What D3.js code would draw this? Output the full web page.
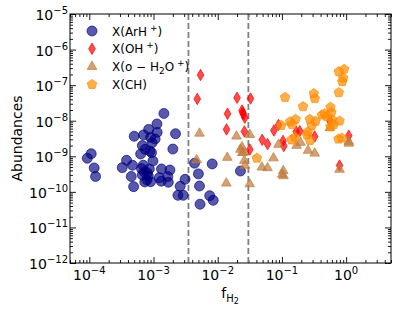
<!DOCTYPE html>
<html>
<head>
<meta charset="utf-8">
<script src="https://cdnjs.cloudflare.com/ajax/libs/d3/7.8.5/d3.min.js"></script>
<style>
body { margin: 0; background: #fff; }
text { font-family: "DejaVu Sans", sans-serif; fill: #000; }
</style>
</head>
<body>
<svg id="chart" width="399" height="312"></svg>
<script>
// [fH2, abundance] pairs
const arhPlus = [[1.45e-3,1.6e-8],[1.13e-3,8.1e-9],[8.4e-4,5.7e-9],[1.14e-3,4.7e-9],[7.0e-4,4.0e-9],[5.0e-4,3.65e-9],
  [2.2e-3,4.3e-9],[9.0e-4,3.4e-9],[1.06e-3,3.06e-9],[9.5e-4,2.4e-9],[6.7e-4,2.0e-9],[2.0e-3,1.6e-9],[7.4e-4,1.57e-9],
  [8.8e-4,1.4e-9],[6.3e-4,1.16e-9],[9.3e-4,1.26e-9],[1.07e-4,1.18e-9],[9.3e-5,8.8e-10],[9.8e-4,7.4e-10],[3.8e-4,7.7e-10],
  [6.9e-4,5.6e-10],[4.7e-4,5.6e-10],[3.25e-4,4.8e-10],[1.19e-4,4.7e-10],[6.5e-4,4.5e-10],[8.6e-4,4.4e-10],[1.33e-3,4.4e-10],
  [1.8e-3,4.1e-10],[7.2e-4,3.6e-10],[1.25e-4,2.7e-10],[4.5e-4,2.7e-10],[8.3e-4,2.8e-10],[1.23e-3,2.5e-10],[1.67e-3,2.7e-10],
  [7.9e-4,2.15e-10],[3.1e-3,2.25e-10],[1.32e-3,2.0e-10],[7.3e-4,1.9e-10],[9.0e-4,1.93e-10],[1.7e-3,1.86e-10],[4.9e-4,1.4e-10],
  [2.6e-3,1.43e-10],[2.4e-3,8.0e-11],[2.9e-3,8.0e-11],[6.7e-4,3.0e-10],[8.0e-4,3.45e-10],[4.35e-3,6.4e-10],[8.2e-3,6.1e-10],
  [5.0e-3,3.2e-10],[5.2e-3,1.46e-10],[7.5e-3,7.8e-11],[8.5e-3,5.8e-11],[5.3e-3,4.5e-11],[2.26e-2,3.85e-10]];

const ohPlus = [[5.4e-3,1.93e-7],[4.8e-3,4.1e-8],[2.0e-2,4.4e-8],[3.24e-2,4.2e-8],[1.42e-2,1.57e-8],[2.39e-2,1.94e-8],
  [2.45e-2,1.7e-8],[2.52e-2,1.5e-8],[2.64e-2,1.22e-8],[1.37e-2,5.7e-9],[2.6e-2,5.0e-9],[3.16e-2,1.55e-9],[4.93e-2,2.9e-9],
  [5.97e-2,2.2e-9],[7.5e-2,5.3e-9],[8.85e-2,7.6e-9],[0.107,1.95e-9],[0.104,2.7e-9],[0.167,4.9e-9],[0.19,5.1e-9],
  [0.324,3.6e-9],[0.561,9.8e-9],[1.10,3.8e-9],[0.79,5.5e-10]];

const oH2OPlus = [[5.2e-3,4.4e-9],[1.96e-2,3.65e-9],[3.16e-2,4.05e-9],[2.39e-2,1.82e-9],[2.55e-2,1.29e-9],[2.41e-2,1.26e-9],
  [2.6e-2,7.6e-10],[2.66e-2,5.5e-10],[1.41e-2,9.2e-10],[4.7e-3,7.9e-10],[1.36e-2,1.74e-10],[3.15e-2,1.66e-10],[7.4e-2,8.9e-10],
  [4.86e-2,4.9e-10],[5.97e-2,4.7e-10],[0.105,3.9e-10],[0.106,2.8e-10],[0.101,3.1e-10],[8.85e-2,2.14e-9],[0.169,2.0e-9],
  [0.195,2.44e-9],[0.255,1.45e-9],[0.324,1.21e-9],[0.557,6.3e-9],[0.79,4.25e-10],[1.10,2.6e-9],[2.26e-2,1.55e-9],[1.10,2.3e-9]];

const chData = [[0.112,4.55e-8],[0.213,2.5e-8],[0.314,5.8e-8],[0.325,4.2e-8],[0.77,6.2e-8],[0.77,2.4e-7],[0.93,2.8e-7],
  [0.90,1.59e-7],[0.87,1.26e-7],[0.57,2.4e-8],[0.46,1.57e-8],[0.50,1.31e-8],[0.59,1.72e-8],[0.61,1.05e-8],[0.79,9.8e-9],
  [0.64,7.8e-9],[0.57,6.8e-9],[0.334,9.7e-9],[0.292,7.3e-9],[0.42,1.45e-8],[0.163,1.1e-8],[0.134,9.4e-9],[0.144,7.8e-9],
  [9.75e-2,7.4e-9],[0.246,4.05e-9],[0.274,2.8e-9],[0.141,2.9e-9],[0.159,3.4e-9],[0.76,3.06e-9],[0.86,3.27e-9],
  [4.07e-2,8.9e-10],[0.253,4.9e-9],[0.272,1.1e-8]];

const dashedAt = [3.5e-3, 3.0e-2];
const xTickExps = [-4, -3, -2, -1, 0];
const yTickExps = [-12, -11, -10, -9, -8, -7, -6, -5];

const pLeft = 70, pRight = 391, pTop = 14, pBottom = 263;
const svg = d3.select('#chart');

const x = d3.scaleLog().domain([5e-5, 5]).range([pLeft, pRight]);
const y = d3.scaleLog().domain([1e-12, 1e-5]).range([pBottom, pTop]);

// minor ticks 2..9 per decade
function minors(scale) {
  const [a, b] = scale.domain();
  const out = [];
  for (let e = Math.floor(Math.log10(a)); e <= Math.ceil(Math.log10(b)); e++)
    for (let k = 2; k <= 9; k++) {
      const v = k * Math.pow(10, e);
      if (v >= a * 0.999 && v <= b * 1.001) out.push(v);
    }
  return out;
}
const xMaj = xTickExps.map(e => Math.pow(10, e));
const yMaj = yTickExps.map(e => Math.pow(10, e));

function tickAxis(axisFn, scale, vals, len, tr) {
  const g = svg.append('g').attr('transform', tr)
    .call(axisFn(scale).tickValues(vals).tickSize(-len).tickFormat(''));
  g.select('.domain').remove();
  g.selectAll('line').attr('stroke', '#000').attr('stroke-width', 0.9);
}
[[xMaj, 6], [minors(x), 3]].forEach(([v, l]) => {
  tickAxis(d3.axisBottom, x, v, l, `translate(0,${pBottom})`);
  tickAxis(d3.axisTop, x, v, l, `translate(0,${pTop})`);
});
[[yMaj, 6], [minors(y), 3]].forEach(([v, l]) => {
  tickAxis(d3.axisLeft, y, v, l, `translate(${pLeft},0)`);
  tickAxis(d3.axisRight, y, v, l, `translate(${pRight},0)`);
});

// tick labels 10^n
function powLabel(sel, e) {
  sel.append('tspan').text('10');
  sel.append('tspan').attr('dy', -6).attr('font-size', 10).text(e < 0 ? '\u2212' + (-e) : e);
}
xTickExps.forEach(e => {
  svg.append('text').attr('x', x(Math.pow(10, e))).attr('y', 280)
    .attr('text-anchor', 'middle').attr('font-size', 14).call(powLabel, e);
});
yTickExps.forEach(e => {
  svg.append('text').attr('x', 68).attr('y', y(Math.pow(10, e)) + 6)
    .attr('text-anchor', 'end').attr('font-size', 14).call(powLabel, e);
});

// dashed lines
svg.selectAll('.vline').data(dashedAt).enter().append('line')
  .attr('x1', d => x(d)).attr('x2', d => x(d)).attr('y1', pTop).attr('y2', pBottom)
  .attr('stroke', '#808080').attr('stroke-width', 1.8).attr('stroke-dasharray', '6,3');

// marker shapes
const pentagon = {
  draw(ctx, size) {
    const r = Math.sqrt(size / 2.378);
    for (let i = 0; i < 5; i++) {
      const a = -Math.PI / 2 + i * 2 * Math.PI / 5;
      i ? ctx.lineTo(r * Math.cos(a), r * Math.sin(a)) : ctx.moveTo(r * Math.cos(a), r * Math.sin(a));
    }
    ctx.closePath();
  }
};
const series = [
  {data: arhPlus, type: d3.symbolCircle, size: 78, color: '#000080', op: 0.65},
  {data: ohPlus, type: d3.symbolDiamond, size: 38, color: '#ff0000', op: 0.7},
  {data: oH2OPlus, type: d3.symbolTriangle, size: 40, color: '#c07a3a', op: 0.7},
  {data: chData, type: pentagon, size: 60, color: '#ff8c00', op: 0.7}
];
series.forEach(s => {
  svg.append('g').selectAll('path').data(s.data).enter().append('path')
    .attr('transform', d => `translate(${x(d[0])},${y(d[1])})`)
    .attr('d', d3.symbol().type(s.type).size(s.size))
    .attr('fill', s.color).attr('fill-opacity', s.op)
    .attr('stroke', s.color).attr('stroke-opacity', s.op).attr('stroke-width', 1);
});

// frame
svg.append('rect').attr('x', pLeft).attr('y', pTop).attr('width', pRight - pLeft).attr('height', pBottom - pTop)
  .attr('fill', 'none').attr('stroke', '#000').attr('stroke-width', 1);

// legend
const legendRows = [
  {parts: [['X(ArH', 0], [' +', -5], [')', 5]]},
  {parts: [['X(OH', 0], [' +', -5], [')', 5]]},
  {parts: [['X(o \u2212 H', 0], ['2', 3, true], ['O', -3], [' +', -5], [')', 5]]},
  {parts: [['X(CH)', 0]]}
];
legendRows.forEach((row, i) => {
  const s = series[i], cy = 31 + i * 17.8;
  svg.append('path').attr('transform', `translate(92,${cy})`)
    .attr('d', d3.symbol().type(s.type).size(s.size))
    .attr('fill', s.color).attr('fill-opacity', s.op)
    .attr('stroke', s.color).attr('stroke-opacity', s.op);
  const t = svg.append('text').attr('x', 112).attr('y', cy + 4.5).attr('font-size', 12)
    .attr('xml:space', 'preserve').style('white-space', 'pre');
  row.parts.forEach(([txt, dy, sub]) => {
    const small = txt === ' +' || sub;
    t.append('tspan').attr('dy', dy).attr('font-size', small ? 9 : 12).text(txt);
  });
});

// axis titles
const xl = svg.append('text').attr('x', 230).attr('y', 298).attr('text-anchor', 'middle').attr('font-size', 14);
xl.append('tspan').text('f');
xl.append('tspan').attr('dy', 4).attr('font-size', 10).text('H');
xl.append('tspan').attr('dy', 2).attr('font-size', 8).text('2');

svg.append('text').attr('transform', `translate(22,${(pTop + pBottom) / 2}) rotate(-90)`)
  .attr('text-anchor', 'middle').attr('font-size', 14).text('Abundances');
</script>
</body>
</html>
